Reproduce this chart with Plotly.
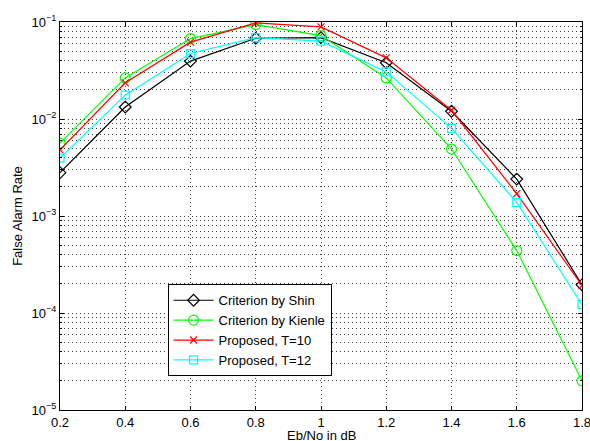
import plotly.graph_objects as go

# Eb/No operating points (dB)
ebno_db = [0.2, 0.4, 0.6, 0.8, 1.0, 1.2, 1.4, 1.6, 1.8]

# False alarm rate for each stopping criterion
far_shin = [2.8e-3, 1.33e-2, 3.95e-2, 0.068, 0.069, 0.038, 0.0120, 2.4e-3, 1.95e-4]
far_kienle = [5.65e-3, 0.0265, 0.0675, 0.094, 0.0725, 0.0265, 4.9e-3, 4.4e-4, 2.0e-5]
far_t10 = [4.8e-3, 0.0236, 0.0620, 0.098, 0.089, 0.0427, 0.0123, 1.7e-3, 1.92e-4]
far_t12 = [3.95e-3, 0.0176, 0.0473, 0.069, 0.0634, 0.0306, 8.0e-3, 1.38e-3, 1.22e-4]

x_ticks = [0.2, 0.4, 0.6, 0.8, 1.0, 1.2, 1.4, 1.6, 1.8]
x_tick_text = ["0.2", "0.4", "0.6", "0.8", "1", "1.2", "1.4", "1.6", "1.8"]
decade_exponents = [-5, -4, -3, -2, -1]

# labelled decades, and the 2..9 subdivisions between them
y_ticks = [10.0 ** e for e in decade_exponents]
y_tick_text = ["10<sup>\u2212%d</sup>" % (-e) for e in decade_exponents]
y_minor_ticks = [m * 10.0 ** e for e in decade_exponents[:-1] for m in range(2, 10)]

series = [
    ("Criterion by Shin", far_shin, "black", "diamond-open", 9),
    ("Criterion by Kienle", far_kienle, "#00ff00", "circle-open", 10),
    ("Proposed, T=10", far_t10, "#ff0000", "x-thin-open", 7),
    ("Proposed, T=12", far_t12, "#00ffff", "square-open", 8),
]

fig = go.Figure()
for name, vals, color, symbol, size in series:
    fig.add_trace(go.Scatter(
        x=ebno_db, y=vals, name=name, mode="lines+markers",
        line=dict(color=color, width=1.2),
        marker=dict(symbol=symbol, size=size, color=color,
                    line=dict(color=color, width=1.2)),
    ))

font_family = "Liberation Sans, Arial, Helvetica, sans-serif"
grid_col = "rgba(30,30,30,0.85)"
grid_dash = "1px,3px"
fs = 13
plot_h = 441 - 22 - 31

fig.update_layout(
    width=590, height=441,
    margin=dict(l=60, r=8, t=22, b=31),
    paper_bgcolor="white", plot_bgcolor="white",
    font=dict(family=font_family, size=fs, color="black"),
    showlegend=True,
    legend=dict(
        x=0.206, y=0.324, xanchor="left", yanchor="top",
        bgcolor="white", bordercolor="black", borderwidth=1,
        font=dict(size=fs), tracegroupgap=0, itemwidth=40,
    ),
)

# x-axis title sits just under the tick labels, at the foot of the page
fig.add_annotation(
    text="Eb/No in dB", xref="paper", yref="paper",
    x=0.5, y=-16.5 / plot_h, xanchor="center", yanchor="top",
    showarrow=False, font=dict(size=fs), borderpad=0,
)

fig.update_xaxes(
    range=[0.2, 1.8], tickvals=x_ticks, ticktext=x_tick_text,
    automargin=False, ticklabeloverflow="allow",
    showline=True, linecolor="black", linewidth=1, mirror="allticks",
    ticks="inside", ticklen=4, tickcolor="black",
    showgrid=True, gridcolor=grid_col, griddash=grid_dash, gridwidth=1,
    zeroline=False,
    tickfont=dict(size=fs),
)

fig.update_yaxes(
    type="log", range=[-5, -1], tickvals=y_ticks, ticktext=y_tick_text,
    automargin=False, ticklabeloverflow="allow",
    showline=True, linecolor="black", linewidth=1, mirror="allticks",
    ticks="inside", ticklen=4, tickcolor="black",
    showgrid=True, gridcolor=grid_col, griddash=grid_dash, gridwidth=1,
    zeroline=False,
    minor=dict(tickmode="array", tickvals=y_minor_ticks,
               ticks="inside", ticklen=2, tickcolor="black",
               showgrid=True, gridcolor=grid_col, griddash=grid_dash, gridwidth=1),
    title=dict(text="False Alarm Rate", standoff=6, font=dict(size=fs)),
    tickfont=dict(size=fs),
)

fig.write_html("out.html")
